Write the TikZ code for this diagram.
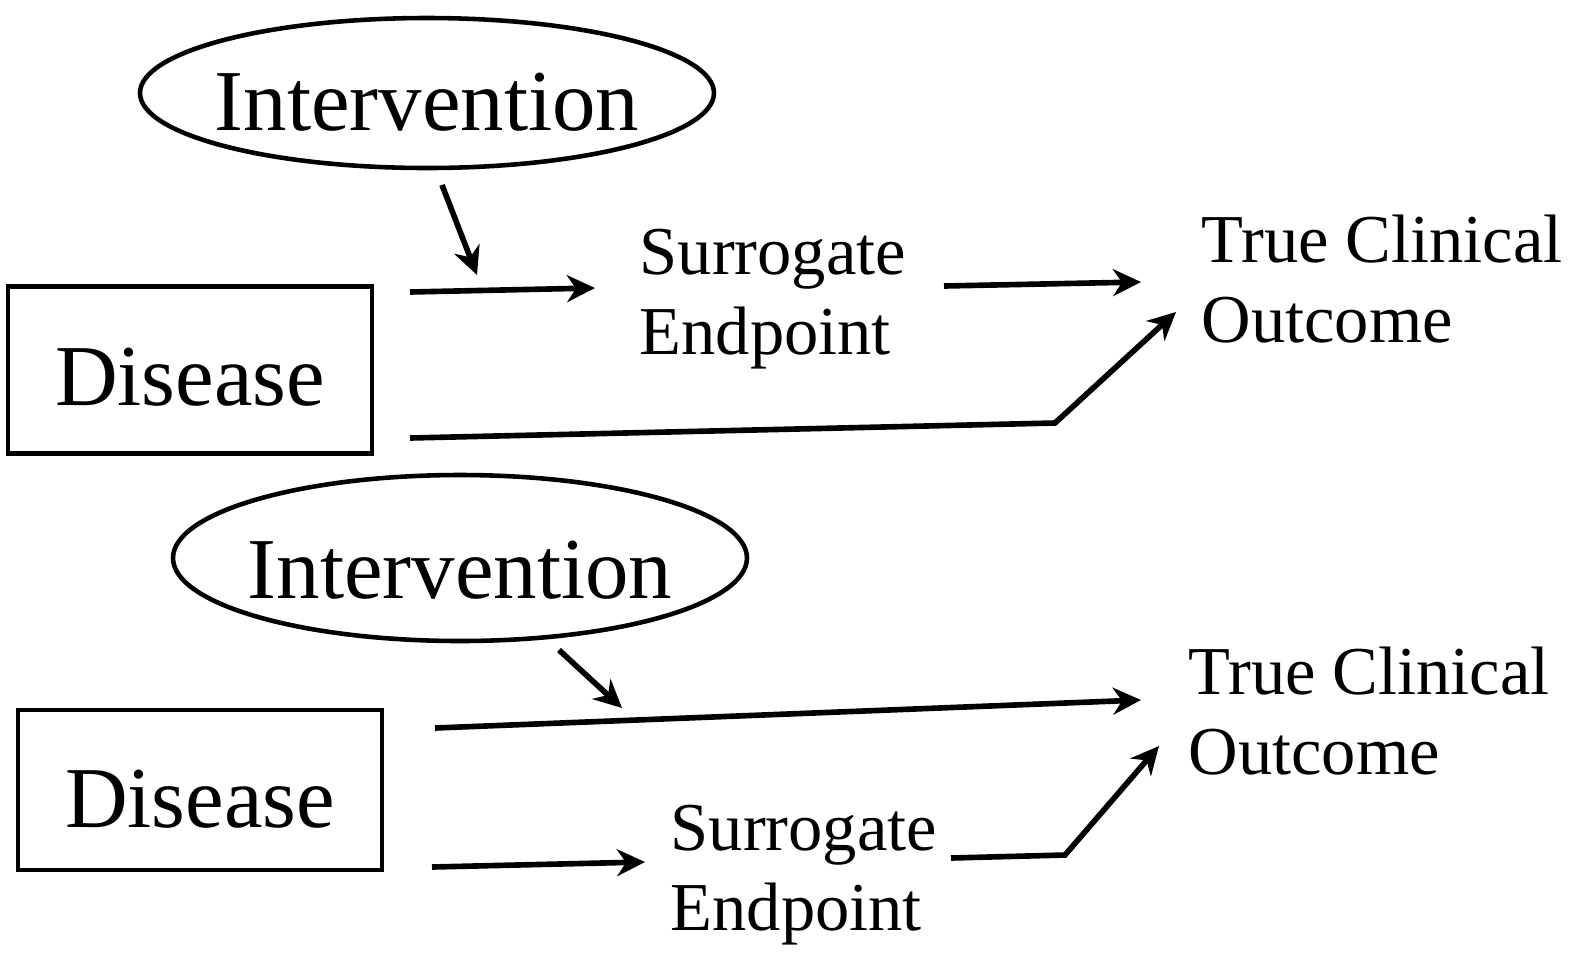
\documentclass[tikz,border=0pt]{standalone}
\usepackage{fontspec}
\setmainfont{Liberation Serif}
\usetikzlibrary{shapes.geometric,arrows.meta}
\begin{document}
\begin{tikzpicture}[x=0.1mm,y=-0.1mm,
  arr/.style={line width=1.6pt,-{Stealth[length=2.8mm,width=2.7mm,inset=0.9mm]}},
  bigtxt/.style={font=\fontsize{24.7}{29}\selectfont},
  smtxt/.style={font=\fontsize{19.5}{22.7}\selectfont,align=left,inner sep=0pt},
  oval/.style={draw,ellipse,line width=1.3pt,inner sep=0pt,bigtxt,text depth=0mm},
  dbox/.style={draw,rectangle,line width=1.3pt,inner sep=0pt,bigtxt,text depth=0mm}]
\useasboundingbox (0,0) rectangle (1586,954);
% ---------- top diagram ----------
\node[oval,minimum width=57.4mm,minimum height=15.0mm,text height=7.5mm] (int1) at (427,93) {\makebox[0pt]{Intervention}};
\node[dbox,minimum width=36.4mm,minimum height=16.7mm,text height=7.0mm] (dis1) at (190,370) {Disease};
\node[smtxt,anchor=base west] (sur1) at (639,354) {Surrogate\\Endpoint};
\node[smtxt,anchor=base west] (out1) at (1201,342) {True Clinical\\Outcome};
\coordinate (i1s) at (442,185);
\coordinate (i1e) at (477,275);
\coordinate (d1a) at (410,292);
\coordinate (s1a) at (595,288);
\coordinate (s1b) at (944,286);
\coordinate (o1a) at (1141,282);
\coordinate (d1b) at (410,438);
\coordinate (k1) at (1055,423);
\coordinate (o1b) at (1176,312);
\draw[arr] (i1s) -- (i1e);
\draw[arr] (d1a) -- (s1a);
\draw[arr] (s1b) -- (o1a);
\draw[arr] (d1b) -- (k1) -- (o1b);
% ---------- bottom diagram ----------
\node[oval,minimum width=57.4mm,minimum height=16.6mm,text height=8.0mm] (int2) at (460,558) {\makebox[0pt]{Intervention}};
\node[dbox,minimum width=36.4mm,minimum height=16.0mm,text height=7.4mm] (dis2) at (200,790) {Disease};
\node[smtxt,anchor=base west] (out2) at (1188,774) {True Clinical\\Outcome};
\node[smtxt,anchor=base west] (sur2) at (670,930) {Surrogate\\Endpoint};
\coordinate (i2s) at (559,650);
\coordinate (i2e) at (622,708);
\coordinate (d2a) at (435,728);
\coordinate (o2a) at (1141,700);
\coordinate (d2b) at (432,867);
\coordinate (s2a) at (645,862);
\coordinate (s2b) at (951,858);
\coordinate (k2) at (1065,855);
\coordinate (o2b) at (1159,746);
\draw[arr] (i2s) -- (i2e);
\draw[arr] (d2a) -- (o2a);
\draw[arr] (d2b) -- (s2a);
\draw[arr] (s2b) -- (k2) -- (o2b);
\end{tikzpicture}
\end{document}
